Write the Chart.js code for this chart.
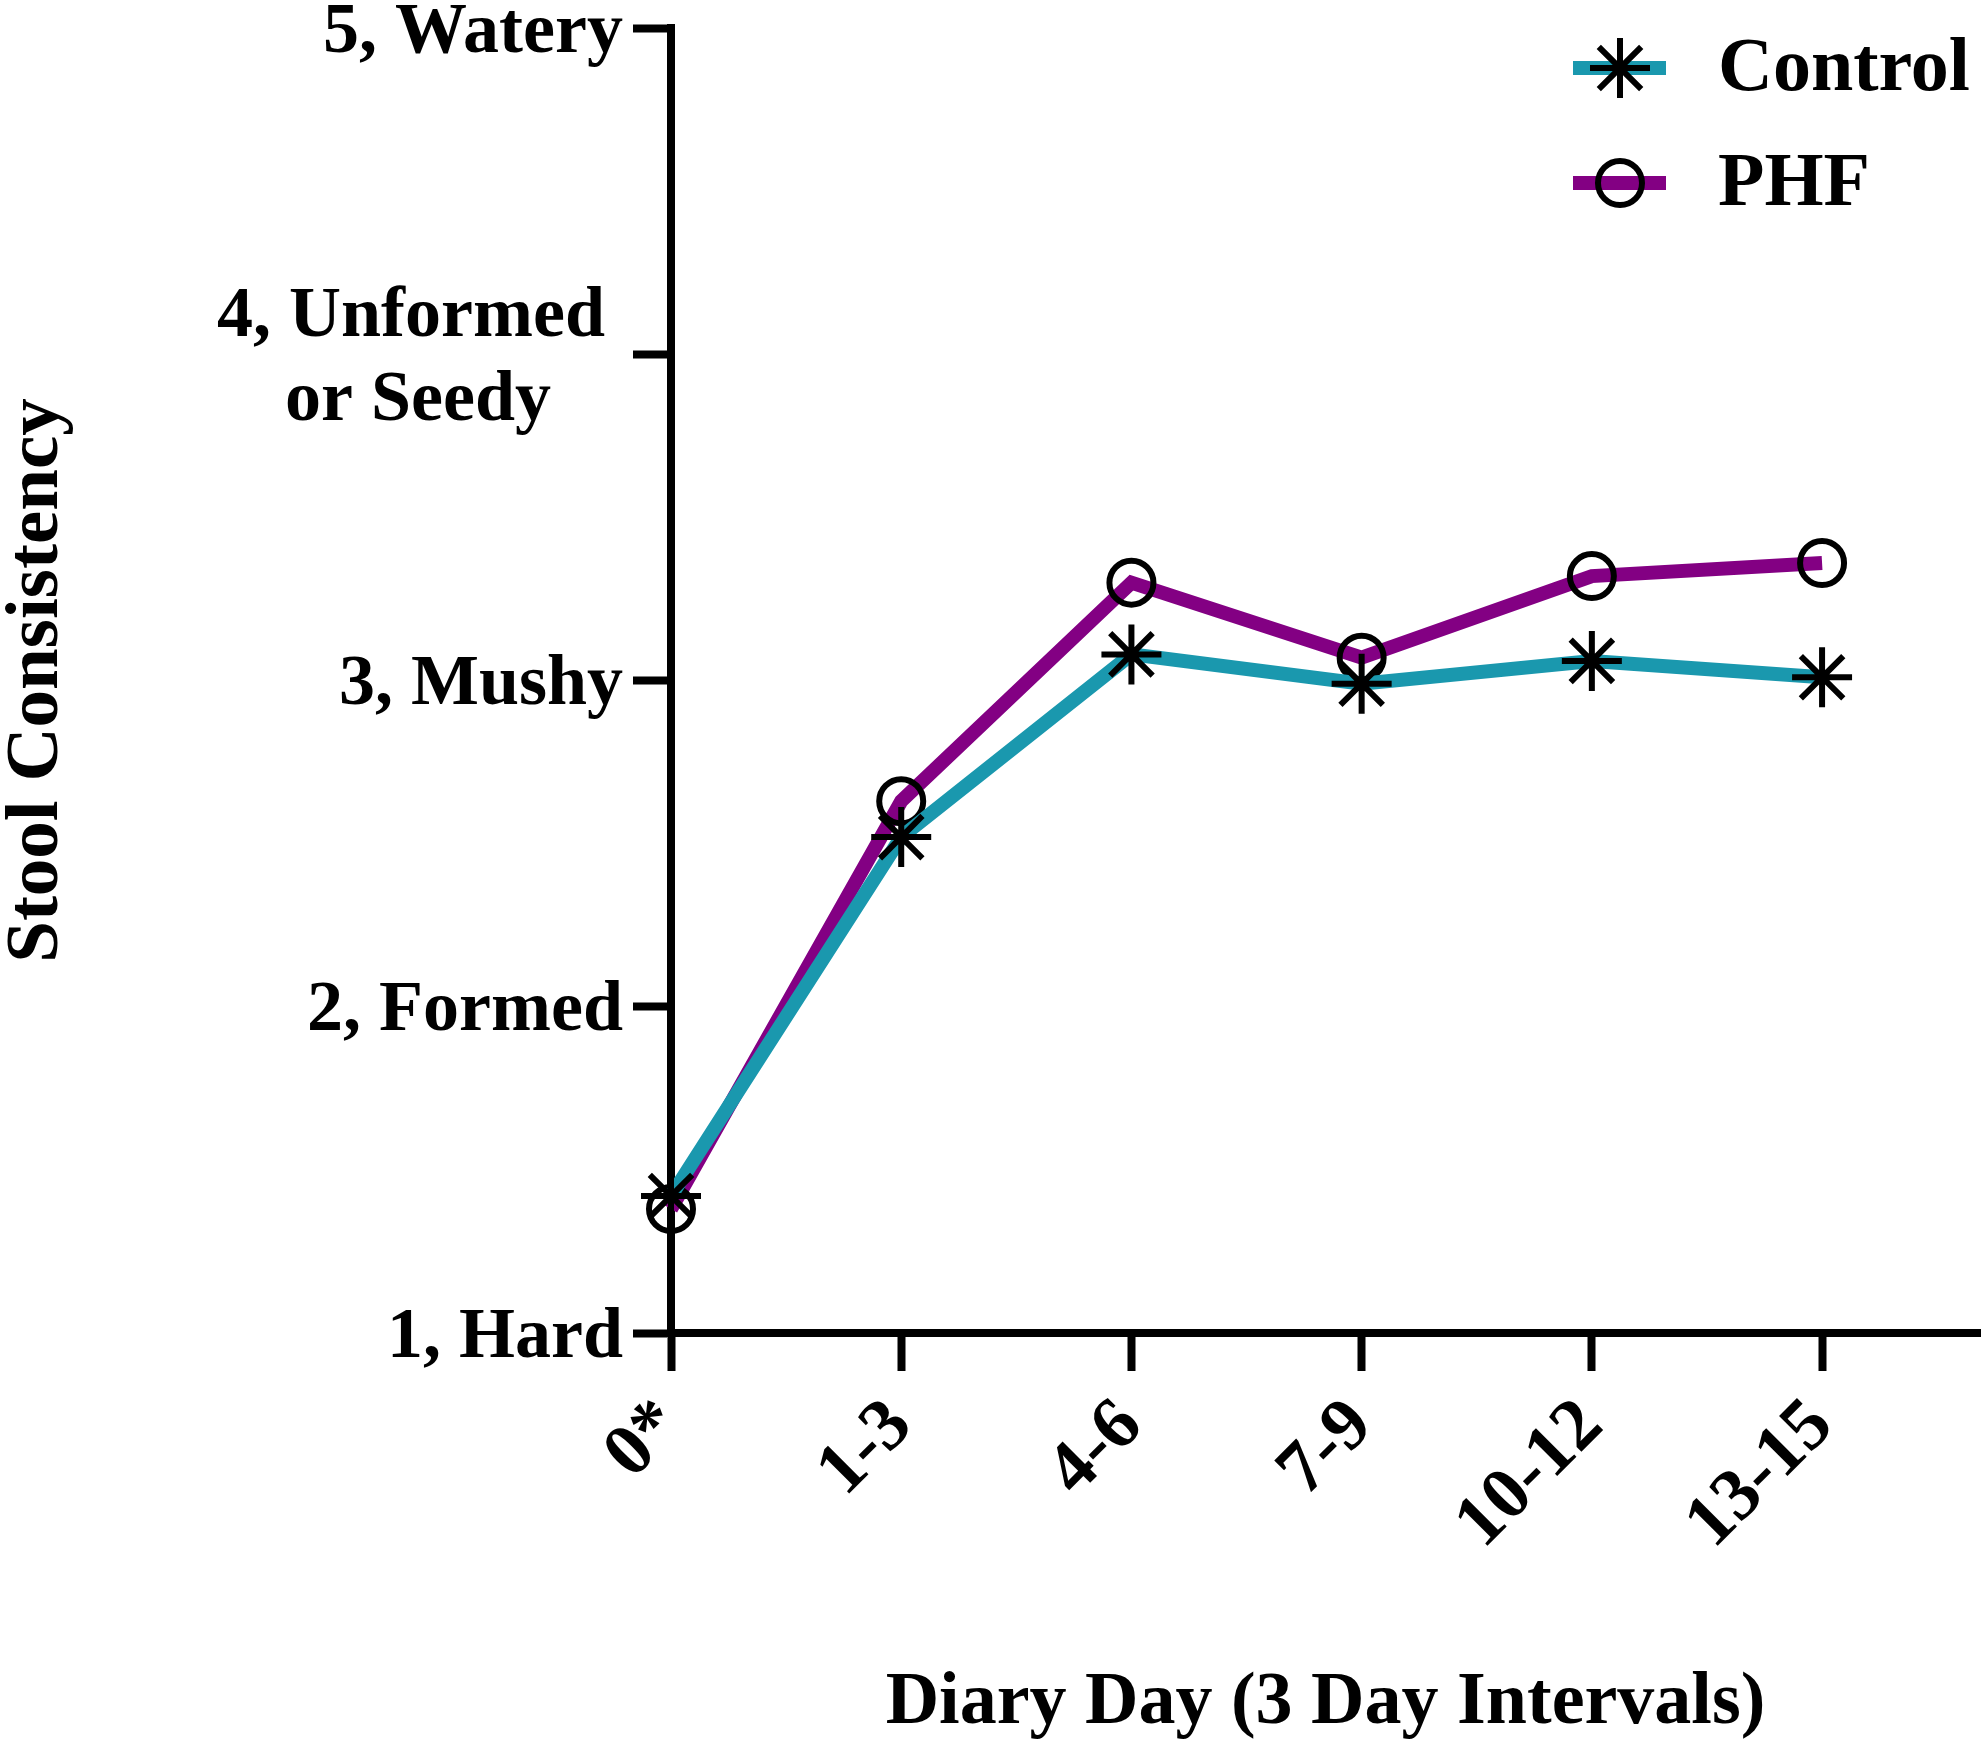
<!DOCTYPE html>
<html>
<head>
<meta charset="utf-8">
<script src="https://cdn.jsdelivr.net/npm/chart.js@4.4.1/dist/chart.umd.min.js"></script>
<style>
  html, body { margin: 0; padding: 0; background: #fff; }
  canvas { display: block; }
</style>
</head>
<body>
<canvas id="chart" width="1985" height="1748"></canvas>
<script>
const categories = ['0*', '1-3', '4-6', '7-9', '10-12', '13-15'];
const controlValues = [1.42, 2.52, 3.08, 2.99, 3.06, 3.01];
const phfValues = [1.38, 2.63, 3.30, 3.07, 3.32, 3.36];
// trailing spaces keep the two-line label centred like the original
const yTickLabels = ['1, Hard', '2, Formed', '3, Mushy', ['4, Unformed ', 'or Seedy    '], '5, Watery'];
const seriesNames = ['Control', 'PHF'];

const SERIF = "'Liberation Serif', 'Times New Roman', serif";
const TEAL = '#1a98ae';
const PURPLE = '#830083';

const toPoints = vals => vals.map((v, i) => ({ x: i, y: v }));

// legend drawn as line swatch + marker, like the original
const lineLegend = {
    id: 'lineLegend',
    afterDraw(chart) {
        const ctx = chart.ctx;
        chart.data.datasets.forEach((ds, i) => {
            const y = 68 + i * 115;
            ctx.save();
            ctx.strokeStyle = ds.borderColor;
            ctx.lineWidth = 14;
            ctx.beginPath();
            ctx.moveTo(1573, y);
            ctx.lineTo(1666, y);
            ctx.stroke();
            ctx.strokeStyle = '#000';
            ctx.fillStyle = 'rgba(0,0,0,0)';
            ctx.lineWidth = ds.pointBorderWidth;
            Chart.helpers.drawPoint(ctx, {
                pointStyle: ds.pointStyle,
                radius: ds.pointRadius,
                borderWidth: ds.pointBorderWidth,
                rotation: 0
            }, 1620, y);
            ctx.fillStyle = '#000';
            ctx.font = 'bold 76px ' + SERIF;
            ctx.textBaseline = 'middle';
            ctx.textAlign = 'left';
            ctx.fillText(ds.label, 1718, y + 2);
            ctx.restore();
        });
    }
};

const ctx = document.getElementById('chart').getContext('2d');
new Chart(ctx, {
    type: 'line',
    data: {
        datasets: [{
            label: seriesNames[0],
            data: toPoints(controlValues),
            borderColor: TEAL,
            borderWidth: 14,
            pointStyle: 'star',
            pointRadius: 30,
            pointBorderWidth: 6,
            pointBorderColor: '#000',
            pointBackgroundColor: 'rgba(0,0,0,0)',
            tension: 0,
            clip: false
        }, {
            label: seriesNames[1],
            data: toPoints(phfValues),
            borderColor: PURPLE,
            borderWidth: 14,
            pointStyle: 'circle',
            pointRadius: 22,
            pointBorderWidth: 6,
            pointBorderColor: '#000',
            pointBackgroundColor: 'rgba(0,0,0,0)',
            tension: 0,
            clip: false
        }]
    },
    options: {
        responsive: false,
        devicePixelRatio: 1,
        animation: false,
        layout: { autoPadding: false, padding: { left: 0, top: 28, right: 5, bottom: 0 } },
        plugins: { legend: { display: false }, tooltip: { enabled: false } },
        scales: {
            x: {
                type: 'linear',
                min: 0,
                max: 5.686,
                afterFit: s => { s.height = 415; s.paddingLeft = 0; s.paddingRight = 0; },
                ticks: {
                    stepSize: 1,
                    includeBounds: false,
                    autoSkip: false,
                    maxRotation: 45,
                    minRotation: 45,
                    padding: 12,
                    color: '#000',
                    font: { family: SERIF, size: 74, weight: 'bold' },
                    callback: v => Number.isInteger(v) ? categories[v] : ''
                },
                grid: {
                    drawOnChartArea: false,
                    tickLength: 38,
                    tickWidth: 8,
                    tickColor: '#000'
                },
                border: { color: '#000', width: 8 },
                title: {
                    display: true,
                    text: 'Diary Day (3 Day Intervals)',
                    color: '#000',
                    font: { family: SERIF, size: 74, weight: 'bold', lineHeight: 1.2 },
                    padding: { top: 0, bottom: 0 }
                }
            },
            y: {
                min: 1,
                max: 5,
                afterFit: s => { s.width = 671; s.paddingTop = 0; s.paddingBottom = 0; },
                ticks: {
                    stepSize: 1,
                    padding: 10,
                    labelOffset: 5,
                    color: '#000',
                    font: { family: SERIF, size: 72, weight: 'bold', lineHeight: 1.17 },
                    callback: v => yTickLabels[v - 1]
                },
                grid: {
                    drawOnChartArea: false,
                    tickLength: 38,
                    tickWidth: 8,
                    tickColor: '#000'
                },
                border: { color: '#000', width: 8 },
                title: {
                    display: true,
                    text: 'Stool Consistency',
                    color: '#000',
                    font: { family: SERIF, size: 75, weight: 'bold', lineHeight: 1 },
                    padding: { top: 0, bottom: 0 }
                }
            }
        }
    },
    plugins: [lineLegend]
});
</script>
</body>
</html>
